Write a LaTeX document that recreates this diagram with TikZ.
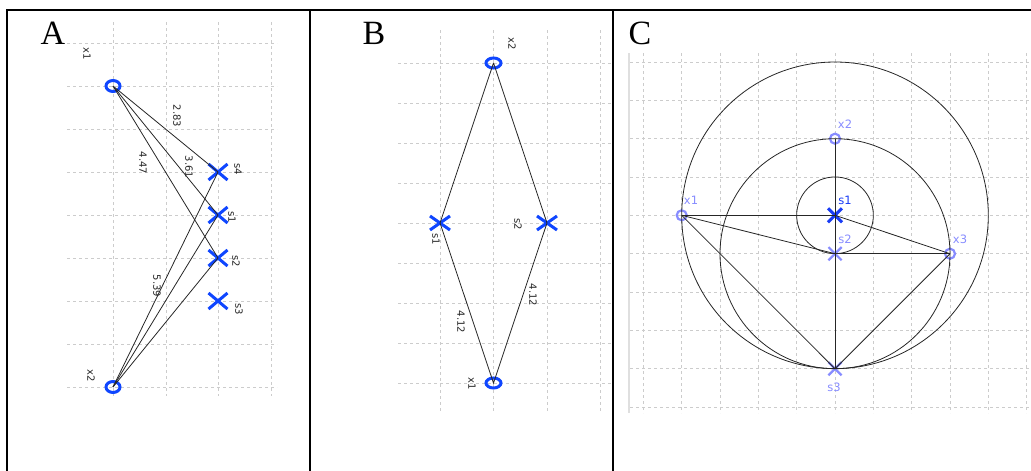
\documentclass[tikz,border=0pt]{standalone}
\usepackage{fontspec}
\setmainfont{Liberation Serif}
\setsansfont{DejaVu Sans}
\usetikzlibrary{shapes.geometric,shapes.misc}
\definecolor{markblue}{RGB}{15,70,255}
\definecolor{paleblue}{RGB}{135,140,255}
\definecolor{deepblue}{RGB}{25,60,245}

\begin{document}
\begin{tikzpicture}[x=1pt, y=-1pt,
    gridline/.style={gray!40, dash pattern=on 3pt off 3pt, line width=0.7pt},
    link/.style={black!85, line width=0.8pt},
    cand/.style={ellipse, draw=markblue, line width=3pt, inner sep=0pt},
    site/.style={cross out, draw=markblue, line width=3pt, inner sep=0pt},
    lbl/.style={font=\sffamily\fontsize{10}{12}\selectfont, text=black!85, rotate=-90, inner sep=0pt},
    clbl/.style={font=\sffamily\fontsize{11.5}{13}\selectfont, text=paleblue, inner sep=0pt},
    panel/.style={font=\fontsize{34}{36}\selectfont, inner sep=0pt}]
    \useasboundingbox (0,0) rectangle (1031,471);

    % frame
    \draw[line width=2pt] (7,471) -- (7,10) -- (1031,10);
    \draw[line width=2pt] (310,10) -- (310,471);
    \draw[line width=2pt] (613,10) -- (613,471);

    % A
    \begin{scope}
        \node[panel] (tagA) at (53,33) {A};
        \foreach \x in {113,166,218,271}
            \draw[gridline] (\x,22) -- (\x,396);
        \foreach \i in {0,...,8}
            \draw[gridline] (67,43+43*\i) -- (277,43+43*\i);

        \node[cand, minimum width=14pt, minimum height=11pt] (ax1) at (113,86) {};
        \node[cand, minimum width=14pt, minimum height=11pt] (ax2) at (113,387) {};
        \node[site, minimum width=16pt, minimum height=13pt] (as4) at (218,172) {};
        \node[site, minimum width=16pt, minimum height=13pt] (as1) at (218,215) {};
        \node[site, minimum width=16pt, minimum height=13pt] (as2) at (218,258) {};
        \node[site, minimum width=16pt, minimum height=13pt] (as3) at (218,301) {};

        \foreach \s in {as4,as1,as2} {
            \draw[link] (ax1.center) -- (\s.center);
            \draw[link] (ax2.center) -- (\s.center);
        }

        \node[lbl] (lax1) at (87,54) {x1};
        \node[lbl] (lax2) at (91,376) {x2};
        \node[lbl] (las4) at (238,169) {s4};
        \node[lbl] (las1) at (232,217) {s1};
        \node[lbl] (las2) at (236,261) {s2};
        \node[lbl] (las3) at (239,309) {s3};
        \node[lbl] (d283) at (177,116) {2.83};
        \node[lbl] (d361) at (189,167) {3.61};
        \node[lbl] (d447) at (143,163) {4.47};
        \node[lbl] (d539) at (157,286) {5.39};
    \end{scope}

    % B
    \begin{scope}[xshift=310pt]
        \node[panel] (tagB) at (64,33) {B};
        \foreach \x in {130,183.5,237,290.5}
            \draw[gridline] (\x,30) -- (\x,413);
        \foreach \i in {0,...,8}
            \draw[gridline] (88,63+40*\i) -- (302,63+40*\i);

        \node[cand, minimum width=15pt, minimum height=10pt] (bx2) at (183.5,63) {};
        \node[cand, minimum width=15pt, minimum height=10pt] (bx1) at (183.5,383) {};
        \node[site, minimum width=17pt, minimum height=11pt] (bs1) at (130,223) {};
        \node[site, minimum width=17pt, minimum height=11pt] (bs2) at (237,223) {};

        \draw[link] (bx2.center) -- (bs1.center) -- (bx1.center) -- (bs2.center) -- (bx2.center);

        \node[lbl] (lbx2) at (202,44) {x2};
        \node[lbl] (lbx1) at (162,384) {x1};
        \node[lbl] (lbs1) at (126,239) {s1};
        \node[lbl] (lbs2) at (208,224) {s2};
        \node[lbl] (d412a) at (151,322) {4.12};
        \node[lbl] (d412b) at (223,295) {4.12};
    \end{scope}

    % C
    \begin{scope}[xshift=615pt]
        \node[panel] (tagC) at (25,33) {C};
        \draw[gray!25, line width=1.5pt] (14,53) -- (14,413);
        \foreach \i in {0,...,10}
            \draw[gridline] (28.3+38.33*\i,53) -- (28.3+38.33*\i,413);
        \foreach \i in {0,...,9}
            \draw[gridline] (15,62+38.33*\i) -- (416,62+38.33*\i);

        \node[circle, draw=paleblue, line width=2.2pt, minimum size=10pt, inner sep=0pt] (cx1) at (66.7,215.3) {};
        \node[circle, draw=paleblue, line width=2.2pt, minimum size=10pt, inner sep=0pt] (cx2) at (220,138.7) {};
        \node[circle, draw=paleblue, line width=2.2pt, minimum size=10pt, inner sep=0pt] (cx3) at (335,253.7) {};
        \node[site, draw=deepblue, minimum size=11pt] (cs1) at (220,215.3) {};
        \node[site, draw=paleblue, line width=2.2pt, minimum size=11pt] (cs2) at (220,253.7) {};
        \node[site, draw=paleblue, line width=2.2pt, minimum size=11pt] (cs3) at (220,368.7) {};

        \draw[link] (cs1.center) circle[radius=153.3];
        \draw[link] (cs2.center) circle[radius=115];
        \draw[link] (cs1.center) circle[radius=38.33];

        \draw[link] (cx1.center) -- (cs1.center);
        \draw[link] (cx1.center) -- (cs2.center);
        \draw[link] (cx1.center) -- (cs3.center);
        \draw[link] (cx2.center) -- (cs3.center);
        \draw[link] (cs1.center) -- (cx3.center);
        \draw[link] (cs2.center) -- (cx3.center);
        \draw[link] (cx3.center) -- (cs3.center);

        \node[clbl] (lcx1) at (76,200) {x1};
        \node[clbl] (lcx2) at (230,124) {x2};
        \node[clbl] (lcx3) at (345,239) {x3};
        \node[clbl, text=deepblue] (lcs1) at (230,200) {s1};
        \node[clbl] (lcs2) at (230,239) {s2};
        \node[clbl] (lcs3) at (219,387) {s3};
    \end{scope}
\end{tikzpicture}
\end{document}
